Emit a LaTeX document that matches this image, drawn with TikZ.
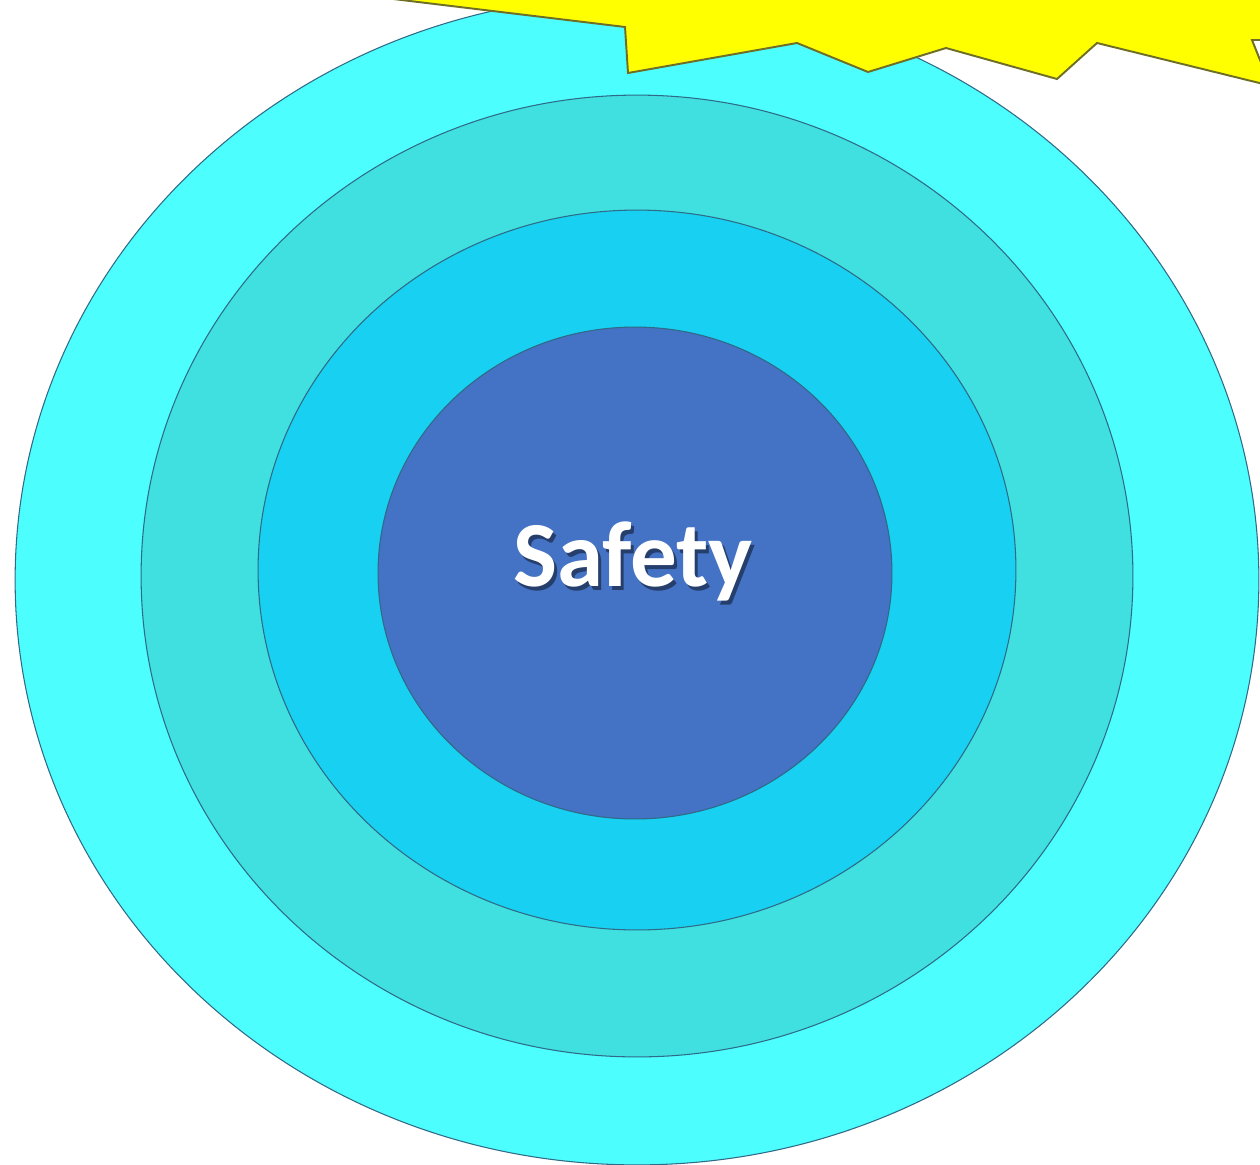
\documentclass[tikz,border=0pt]{standalone}
\usepackage{fontspec}
\setmainfont{Carlito}
\definecolor{ringA}{HTML}{4DFEFE}
\definecolor{ringB}{HTML}{40E0E0}
\definecolor{ringC}{HTML}{17D0F2}
\definecolor{ringD}{HTML}{4472C4}
\definecolor{ringline}{HTML}{2F6A86}
\definecolor{burst}{HTML}{FFFF00}
\definecolor{burstline}{HTML}{6E6E26}
\tikzset{
  ring/.style={draw=ringline, line width=0.6pt},
  burstshape/.style={fill=burst, draw=burstline, line width=1.1pt, line join=miter},
  label/.style={font=\bfseries\fontsize{53}{60}\selectfont, text=white, inner sep=0pt},
  shadowlabel/.style={font=\bfseries\fontsize{53}{60}\selectfont, text=black, opacity=0.45, inner sep=0pt}
}
\begin{document}
\begin{tikzpicture}[x=0.02cm,y=-0.02cm]
\useasboundingbox (0,0) rectangle (1260,1164);
\clip (0,0) rectangle (1260,1164);
\fill[white] (0,0) rectangle (1260,1164);
% rings
\coordinate (cA) at (637,580);
\coordinate (cB) at (637,576);
\coordinate (cC) at (637,570);
\coordinate (cD) at (635,573);
\path[ring, fill=ringA] (cA) ellipse (12.44cm and 11.7cm);
\path[ring, fill=ringB] (cB) ellipse (9.92cm and 9.62cm);
\path[ring, fill=ringC] (cC) ellipse (7.58cm and 7.2cm);
\path[ring, fill=ringD] (cD) ellipse (5.14cm and 4.92cm);
% burst (cut off by the top edge)
\path[burstshape] (236,-20) -- (625,27) -- (628,73) -- (797,43) -- (868,72)
  -- (946,48) -- (1057,79) -- (1097,43) -- (1300,93) -- (1300,88)
  -- (1270,85) -- (1252,40) -- (1300,40) -- (1300,-20) -- cycle;
% label
\node[shadowlabel] (safetyshadow) at (636,565) {Safety};
\node[label] (safety) at (633,561) {Safety};
\end{tikzpicture}
\end{document}
